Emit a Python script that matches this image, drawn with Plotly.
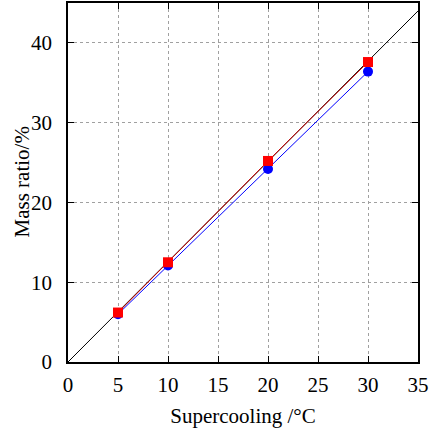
import plotly.graph_objects as go

supercooling = [5, 10, 20, 30]
red_vals = [6.2, 12.5, 25.2, 37.6]
blue_vals = [6.0, 12.1, 24.2, 36.4]
ref_x = [0, 35]
ref_y = [0, 44]

fig = go.Figure()
fig.add_trace(go.Scatter(x=ref_x, y=ref_y, mode="lines",
                         line=dict(color="black", width=1), showlegend=False))
fig.add_trace(go.Scatter(x=supercooling, y=blue_vals, mode="lines+markers",
                         line=dict(color="#0000ff", width=1),
                         marker=dict(symbol="circle", size=10, color="#0000ff"),
                         showlegend=False))
fig.add_trace(go.Scatter(x=supercooling, y=red_vals, mode="lines+markers",
                         line=dict(color="#cc0000", width=1),
                         marker=dict(symbol="square", size=10, color="#ff0000"),
                         showlegend=False))

axis_common = dict(showline=True, linecolor="black", linewidth=1.5, mirror="allticks",
                   ticks="inside", ticklen=6, tickcolor="black", automargin=False,
                   showgrid=True, gridcolor="#a0a0a0", griddash="dot", gridwidth=1,
                   zeroline=False, tickfont=dict(family="Liberation Serif", size=21, color="black"))

fig.update_layout(
    width=431, height=432,
    margin=dict(l=68, r=13, t=3, b=70),
    plot_bgcolor="white", paper_bgcolor="white",
    font=dict(family="Liberation Serif", size=21, color="black"),
    xaxis=dict(range=[0, 35], dtick=5, ticklabelstandoff=3,
               title=dict(text="Supercooling /°C", font=dict(size=21), standoff=12),
               **axis_common),
    yaxis=dict(range=[0, 45], tickvals=[0, 10, 20, 30, 40], ticklabelstandoff=10,
               **axis_common),
    annotations=[dict(text="Mass ratio/%", textangle=-90, xref="paper", yref="paper",
                      x=(21 - 68) / 350, y=0.5, xanchor="center", yanchor="middle",
                      showarrow=False, font=dict(family="Liberation Serif", size=21, color="black"))],
)
fig.write_html("out.html", config={"displayModeBar": False},
               post_script="document.body.style.margin='0';document.body.style.overflow='hidden';")
